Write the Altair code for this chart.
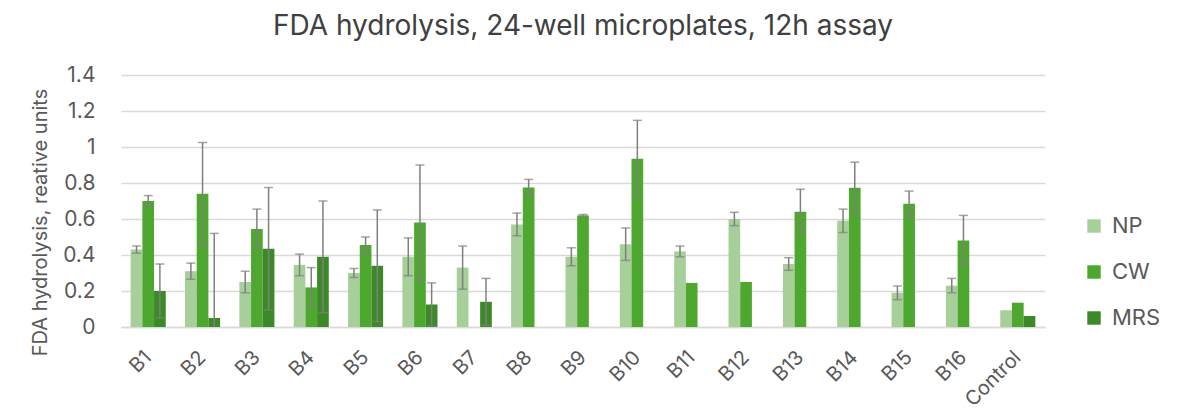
import altair as alt
import pandas as pd

categories = ["B1", "B2", "B3", "B4", "B5", "B6", "B7", "B8", "B9", "B10",
              "B11", "B12", "B13", "B14", "B15", "B16", "Control"]
series = ["NP", "CW", "MRS"]
colors = ["#a6cf99", "#4ea72e", "#3b8a27"]
y_ticks = [0, 0.2, 0.4, 0.6, 0.8, 1.0, 1.2, 1.4]

np_vals = [0.43, 0.31, 0.25, 0.345, 0.30, 0.39, 0.33, 0.57, 0.39, 0.46,
           0.42, 0.60, 0.35, 0.59, 0.19, 0.23, 0.093]
np_err = [0.02, 0.045, 0.06, 0.06, 0.025, 0.105, 0.12, 0.063, 0.05, 0.09,
          0.03, 0.037, 0.035, 0.065, 0.038, 0.04, 0.0]
cw_vals = [0.70, 0.74, 0.545, 0.22, 0.455, 0.58, 0.0, 0.775, 0.62, 0.935,
           0.245, 0.25, 0.64, 0.773, 0.685, 0.48, 0.135]
cw_err = [0.03, 0.285, 0.11, 0.11, 0.045, 0.32, 0.0, 0.045, 0.005, 0.213,
          0.0, 0.0, 0.125, 0.143, 0.07, 0.14, 0.0]
mrs_vals = [0.20, 0.05, 0.435, 0.39, 0.34, 0.125, 0.14, 0.0, 0.0, 0.0,
            0.0, 0.0, 0.0, 0.0, 0.0, 0.0, 0.061]
mrs_err = [0.15, 0.47, 0.34, 0.31, 0.31, 0.12, 0.13, 0.0, 0.0, 0.0,
           0.0, 0.0, 0.0, 0.0, 0.0, 0.0, 0.0]

rows = []
for name, vals, errs in [("NP", np_vals, np_err), ("CW", cw_vals, cw_err),
                         ("MRS", mrs_vals, mrs_err)]:
    for c, v, e in zip(categories, vals, errs):
        rows.append({"cat": c, "series": name, "value": v, "err": e,
                     "lo": max(v - e, 0.0), "hi": v + e})
df = pd.DataFrame(rows)

caps = []
for r in rows:
    if r["err"] > 0:
        caps.append({"cat": r["cat"], "series": r["series"], "y": r["hi"]})
        if r["value"] - r["err"] > 0:
            caps.append({"cat": r["cat"], "series": r["series"], "y": r["lo"]})
caps_df = pd.DataFrame(caps)

FONT = "Inter"
LABEL = "#595959"

x_scale = alt.Scale(paddingInner=0.355, paddingOuter=0.178)
x_axis = alt.Axis(title=None, labelAngle=-45, labelAlign="right",
                  labelBaseline="middle", labelFontSize=20,
                  labelColor=LABEL, labelFont=FONT, ticks=False,
                  labelPadding=27, domainColor="#d9d9d9",
                  domainWidth=1.5, grid=False, labelOverlap=False)
y_scale = alt.Scale(domain=[0, 1.4], nice=False)
y_axis = alt.Axis(title="FDA hydrolysis, reative units",
                  values=y_ticks, format=".1~f", labelFontSize=21,
                  labelColor=LABEL, labelFont=FONT, ticks=False, domain=False,
                  labelOverlap=False, labelPadding=26,
                  gridColor="#d9d9d9", gridWidth=1.5,
                  titleFont=FONT, titleFontSize=20, titleColor=LABEL,
                  titleFontWeight="normal", titleAngle=-90,
                  titleX=-81, titleY=147, titleAlign="center",
                  titleBaseline="middle")
xoff = alt.XOffset("series:N", sort=series,
                   scale=alt.Scale(domain=series, paddingInner=0, paddingOuter=0))

bars = alt.Chart(df).mark_bar().encode(
    x=alt.X("cat:N", sort=categories, scale=x_scale, axis=x_axis),
    xOffset=xoff,
    y=alt.Y("value:Q", scale=y_scale, axis=y_axis),
    color=alt.Color("series:N", sort=series,
                    scale=alt.Scale(domain=series, range=colors),
                    legend=alt.Legend(title=None, orient="none", legendX=962,
                                      legendY=140, symbolType="square",
                                      symbolSize=180, symbolStrokeWidth=0,
                                      labelFontSize=22, labelFont=FONT,
                                      labelColor=LABEL, rowPadding=24,
                                      padding=0, labelOffset=7)),
)

rules = alt.Chart(df).transform_filter("datum.err > 0").mark_rule(
    color="#7f7f7f", strokeWidth=1.5).encode(
    x=alt.X("cat:N", sort=categories, scale=x_scale, axis=x_axis),
    xOffset=xoff,
    y=alt.Y("lo:Q", scale=y_scale, axis=y_axis), y2="hi:Q")

ticks = alt.Chart(caps_df).mark_tick(
    color="#7f7f7f", orient="horizontal", size=9, thickness=1.5).encode(
    x=alt.X("cat:N", sort=categories, scale=x_scale, axis=x_axis),
    xOffset=xoff,
    y=alt.Y("y:Q", scale=y_scale, axis=y_axis))

chart = alt.layer(bars, rules, ticks).properties(
    width=924, height=252,
    background="white",
    title=alt.TitleParams("FDA hydrolysis, 24-well microplates, 12h assay",
                          font=FONT, fontSize=28, fontWeight="normal",
                          color="#404040", anchor="middle", offset=23),
    autosize=alt.AutoSizeParams(type="none"),
    padding={"left": 113, "top": 67, "right": 123, "bottom": 86},
).configure_view(strokeWidth=0).configure_axis(labelOverlap=False)

chart.save("out.html", embed_options={"renderer": "svg", "actions": False})
